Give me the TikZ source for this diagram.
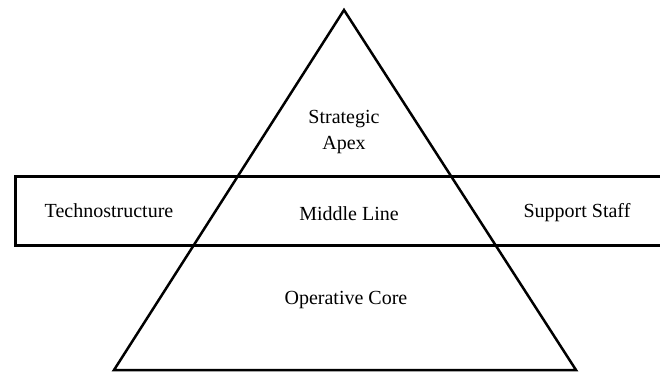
\documentclass[tikz,border=0pt]{standalone}
\usepackage{fontspec}
\setmainfont{Liberation Serif}

\begin{document}
\begin{tikzpicture}[x=0.5pt, y=-0.5pt]
\tikzset{label text/.style = {font=\fontsize{10}{13}\selectfont, align=center}}
\tikzset{band/.style = {line width=1.5pt}}
\tikzset{pyramid/.style = {line width=1.25pt, line join=miter}}

\useasboundingbox (0, 0) rectangle (660, 372);
\clip (0, 0) rectangle (660, 372);

% the band across the middle
\coordinate (band sw) at (15, 245);
\coordinate (band ne) at (668, 176);
\draw [band] (band sw) rectangle (band ne);

% the pyramid
\coordinate (top) at (344, 10);
\coordinate (left) at (114, 370);
\coordinate (right) at (576, 370);
\draw [pyramid] (top) -- (right) -- (left) -- cycle;

\node[label text] (apex) at (344, 132) {Strategic\\Apex};
\node[label text] (techno) at (109, 211) {Technostructure};
\node[label text] (middle) at (349, 214) {Middle Line};
\node[label text] (support) at (577, 213) {Support Staff};
\node[label text] (core) at (346, 300) {Operative Core};

\end{tikzpicture}
\end{document}
